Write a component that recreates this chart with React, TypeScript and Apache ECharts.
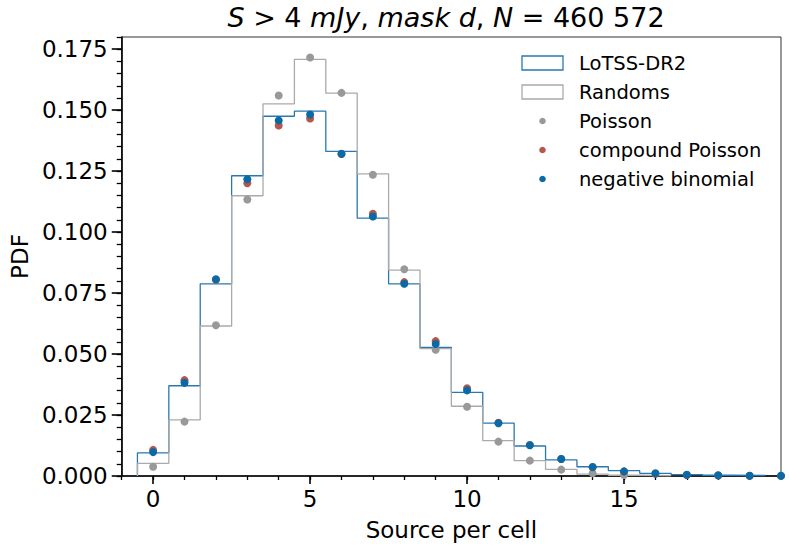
import React, { useEffect, useRef } from "react";
import * as echarts from "echarts";

// ---- data ----
const lotss = [0.0095, 0.037, 0.0788, 0.1231, 0.1475, 0.1496, 0.1331, 0.1057, 0.0788, 0.0527, 0.0343, 0.0217, 0.0123, 0.0066, 0.0038, 0.0022, 0.0011, 0.0006, 0.0003, 0.0002];
const randoms = [0.0052, 0.023, 0.0615, 0.1149, 0.1526, 0.1708, 0.157, 0.1239, 0.0844, 0.0522, 0.0286, 0.0145, 0.0063, 0.0027, 0.0008, 0.0003, 0.0001];
const poisson = [0.0038, 0.0223, 0.0618, 0.1134, 0.156, 0.1716, 0.1571, 0.1235, 0.0848, 0.0518, 0.0284, 0.0141, 0.0063, 0.0026, 0.0011, 0.0004];
const compound = [0.0107, 0.0393, 0.0805, 0.12, 0.1437, 0.1466, 0.132, 0.1075, 0.0795, 0.0553, 0.036, 0.0218, 0.0127, 0.007, 0.0036, 0.0018, 0.0009, 0.0004, 0.0002, 0.0001, 0.00005];
const negbin = [0.0098, 0.0382, 0.0807, 0.1217, 0.1458, 0.1482, 0.1321, 0.1064, 0.0788, 0.0541, 0.0351, 0.0216, 0.0126, 0.007, 0.0037, 0.0019, 0.0011, 0.0005, 0.0003, 0.0001, 0.0001];
const xMajorTicks = [0, 5, 10, 15];
const yMajorTicks = [0, 0.025, 0.05, 0.075, 0.1, 0.125, 0.15, 0.175];
const legendNames = ["LoTSS-DR2", "Randoms", "Poisson", "compound Poisson", "negative binomial"];
// title pieces: [text, italic?]
const titleParts: [string, boolean][] = [
  ["S", true], [" > 4 ", false], ["mJy", true], [", ", false], ["mask d", true], [", ", false], ["N", true], [" = 460 572", false],
];

const FONT = "DejaVu Sans";
const C_LOTSS = "#2a78b0";
const C_RAND = "#aaaaaa";
const C_POIS = "#999999";
const C_COMP = "#b5574b";
const C_NB = "#0a6aa6";

function stepPoints(vals: number[]) {
  const pts: number[][] = [[-0.5, 0]];
  vals.forEach((v, k) => {
    pts.push([k - 0.5, v]);
    pts.push([k + 0.5, v]);
  });
  pts.push([vals.length - 0.5, 0]);
  return pts;
}
const pointsOf = (vals: number[]) => vals.map((v, k) => [k, v]);

export default function App() {
  const ref = useRef<HTMLDivElement>(null);
  useEffect(() => {
    document.body.style.margin = "0";
    const chart = echarts.init(ref.current!, null, { renderer: "svg" });
    const legendX = 522;
    const rowY = [63, 92, 121, 150, 179];
    const legendGraphics: any[] = [];
    legendNames.forEach((name, i) => {
      if (i < 2) {
        legendGraphics.push({
          type: "rect",
          shape: { x: legendX, y: rowY[i] - 7, width: 41, height: 14 },
          style: { fill: "none", stroke: i === 0 ? C_LOTSS : C_RAND, lineWidth: 1.3 },
        });
      } else {
        legendGraphics.push({
          type: "circle",
          shape: { cx: legendX + 20.5, cy: rowY[i], r: 3.3 },
          style: { fill: [C_POIS, C_COMP, C_NB][i - 2] },
        });
      }
      legendGraphics.push({
        type: "text",
        x: 579,
        y: rowY[i],
        style: { text: name, font: `19.5px '${FONT}'`, fill: "#000", textVerticalAlign: "middle", textAlign: "left" },
      });
    });

    const titleRich = titleParts.map(([t, it]) => `{${it ? "i" : "n"}|${t}}`).join("");

    const option: any = {
      animation: false,
      grid: { left: 117, right: 8, top: 37, bottom: 76, show: true, borderColor: "#333", borderWidth: 1, backgroundColor: "transparent" },
      xAxis: [
        {
          type: "value", min: -1, max: 20, interval: 1, position: "bottom",
          axisLine: { show: true, onZero: false, lineStyle: { color: "#000", width: 1.6 } },
          axisTick: { show: true, length: 4, lineStyle: { color: "#000", width: 1.3 } },
          axisLabel: { show: false },
          splitLine: { show: false },
        },
        {
          type: "value", min: -1, max: 20, position: "bottom",
          axisLine: { show: false, onZero: false },
          axisTick: { show: true, length: 8, customValues: xMajorTicks, lineStyle: { color: "#000", width: 1.6 } },
          axisLabel: { show: true, customValues: xMajorTicks, fontSize: 23, fontFamily: FONT, color: "#000", margin: 11 },
          splitLine: { show: false },
          name: "Source per cell", nameLocation: "middle", nameGap: 42,
          nameTextStyle: { fontSize: 23, fontFamily: FONT, color: "#000" },
        },
      ],
      yAxis: [
        {
          type: "value", min: 0, max: 0.18, interval: 0.005, position: "left",
          axisLine: { show: true, onZero: false, lineStyle: { color: "#000", width: 1.6 } },
          axisTick: { show: true, length: 5, lineStyle: { color: "#000", width: 1.3 } },
          axisLabel: { show: false },
          splitLine: { show: false },
        },
        {
          type: "value", min: 0, max: 0.18, position: "left", offset: 0,
          axisLine: { show: false, onZero: false },
          axisTick: { show: true, length: 10, customValues: yMajorTicks, lineStyle: { color: "#000", width: 1.6 } },
          axisLabel: { show: true, customValues: yMajorTicks, formatter: (v: number) => v.toFixed(3), fontSize: 23, fontFamily: FONT, color: "#000", margin: 14 },
          splitLine: { show: false },
          name: "PDF", nameLocation: "middle", nameGap: 86,
          nameTextStyle: { fontSize: 23, fontFamily: FONT, color: "#000" },
        },
      ],
      series: [
        { name: legendNames[0], type: "line", data: stepPoints(lotss), showSymbol: false, lineStyle: { color: C_LOTSS, width: 1.3 }, z: 2 },
        { name: legendNames[1], type: "line", data: stepPoints(randoms), showSymbol: false, lineStyle: { color: C_RAND, width: 1.3 }, z: 2 },
        { name: legendNames[2], type: "scatter", data: pointsOf(poisson), symbolSize: 8, itemStyle: { color: C_POIS, opacity: 1 }, z: 3 },
        { name: legendNames[3], type: "scatter", data: pointsOf(compound), symbolSize: 8, itemStyle: { color: C_COMP, opacity: 1 }, z: 4 },
        { name: legendNames[4], type: "scatter", data: pointsOf(negbin), symbolSize: 8, itemStyle: { color: C_NB, opacity: 1 }, z: 5 },
      ],
      graphic: [
        {
          type: "text", x: 446, y: 17,
          style: {
            text: titleRich, fill: "#000", textAlign: "center", textVerticalAlign: "middle",
            rich: {
              i: { fontFamily: FONT, fontStyle: "italic", fontSize: 27, fill: "#000" },
              n: { fontFamily: FONT, fontStyle: "normal", fontSize: 27, fill: "#000" },
            },
          },
        },
        ...legendGraphics,
      ],
    };
    chart.setOption(option);
    return () => chart.dispose();
  }, []);
  return <div ref={ref} style={{ width: 789, height: 552 }} />;
}
